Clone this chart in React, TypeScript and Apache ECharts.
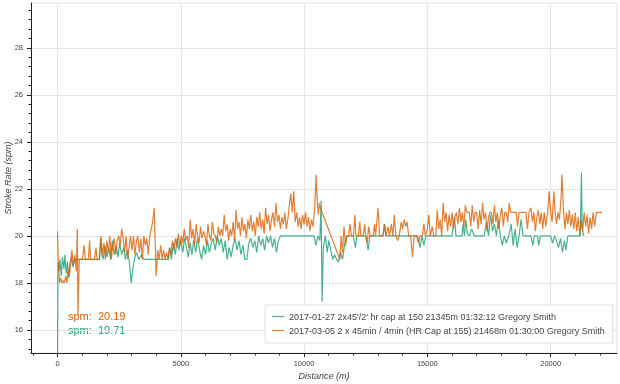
import React, { useEffect, useRef } from "react";
import * as echarts from "echarts";

// ---- data (distance m, stroke rate spm) ----
const greenName = "2017-01-27 2x45'/2' hr cap at 150 21345m 01:32:12 Gregory Smith";
const orangeName = "2017-03-05 2 x 45min / 4min (HR Cap at 155) 21468m 01:30:00 Gregory Smith";

const greenPoints: [number, number][] = [
  [0, 15.0], [20, 18.9], [60, 18.5], [100, 19.0], [150, 18.3], [200, 19.1], [260, 18.6], [300, 19.2],
  [350, 18.4], [400, 18.9], [450, 18.2], [500, 18.8], [560, 19.1], [620, 18.7], [700, 19.0], [800, 19.0],
  [1000, 19.0], [1200, 19.0], [1400, 19.0], [1700, 19.0], [1750, 19.9], [1800, 19.2], [1850, 19.0], [1920, 19.6],
  [2000, 19.1], [2080, 19.5], [2150, 19.0], [2220, 19.8], [2300, 19.2], [2380, 19.6], [2450, 19.1], [2520, 19.7],
  [2600, 19.2], [2680, 19.5], [2750, 19.0], [2820, 19.4], [2900, 19.0], [2990, 18.0], [3050, 18.6], [3120, 19.0],
  [3200, 19.3], [3300, 19.0], [3400, 19.2], [3500, 19.0], [3800, 19.0], [4100, 19.0], [4500, 19.0], [4550, 19.5],
  [4620, 19.0], [4700, 19.7], [4780, 19.2], [4850, 19.9], [4920, 19.4], [5000, 19.8], [5080, 19.3], [5150, 19.9],
  [5230, 19.5], [5300, 19.1], [5380, 19.7], [5450, 19.2], [5520, 19.8], [5600, 19.3], [5680, 19.9], [5760, 19.4],
  [5840, 19.0], [5920, 19.6], [6000, 19.2], [6080, 19.8], [6160, 19.3], [6240, 19.7], [6320, 19.9], [6400, 19.4],
  [6480, 20.0], [6560, 19.6], [6640, 19.9], [6720, 19.3], [6800, 19.8], [6880, 19.0], [6960, 19.5], [7040, 19.1],
  [7120, 19.6], [7200, 19.9], [7280, 19.4], [7360, 19.8], [7440, 19.2], [7520, 19.6], [7600, 19.0], [7680, 19.0],
  [7760, 19.7], [7840, 19.9], [7920, 19.5], [8000, 19.8], [8080, 19.3], [8160, 20.0], [8240, 19.6], [8320, 19.9],
  [8400, 19.4], [8480, 20.0], [8560, 19.7], [8640, 20.0], [8720, 19.5], [8800, 19.9], [8880, 19.3], [8960, 19.8],
  [9040, 20.0], [9100, 20.0], [9500, 20.0], [10000, 20.0], [10400, 20.0], [10480, 19.6], [10560, 20.0], [10640, 19.8],
  [10690, 21.5], [10730, 17.2], [10780, 19.5], [10860, 20.0], [10940, 19.3], [11000, 19.8], [11080, 19.4], [11160, 19.0],
  [11240, 19.2], [11320, 19.0], [11400, 18.9], [11480, 19.3], [11560, 19.0], [11640, 19.6], [11720, 20.0], [12000, 20.0],
  [12080, 19.5], [12140, 20.0], [12500, 20.0], [12600, 19.4], [12660, 20.0], [13000, 20.0], [13200, 20.0], [13260, 20.5],
  [13320, 20.0], [14000, 20.0], [14600, 20.0], [14700, 19.5], [14780, 20.0], [14860, 19.6], [14940, 20.0], [15200, 20.0],
  [16000, 20.0], [16100, 20.8], [16160, 20.0], [16400, 20.0], [16450, 20.5], [16500, 20.0], [16560, 20.7], [16620, 20.1],
  [16700, 20.0], [16800, 20.3], [16900, 20.0], [17000, 20.0], [17300, 20.0], [17400, 20.6], [17480, 20.0], [17560, 20.9],
  [17640, 20.2], [17720, 20.5], [17800, 20.0], [17880, 20.7], [17960, 20.0], [18040, 19.6], [18120, 20.0], [18200, 19.7],
  [18300, 20.0], [18400, 20.5], [18480, 19.6], [18560, 20.3], [18640, 19.5], [18720, 20.0], [18800, 20.7], [18880, 20.0],
  [19000, 20.0], [19200, 20.0], [19280, 19.6], [19340, 20.0], [19460, 20.0], [19520, 19.6], [19580, 20.0], [20000, 20.0],
  [20080, 19.7], [20160, 20.0], [20240, 19.8], [20320, 19.5], [20400, 19.9], [20480, 19.3], [20560, 19.8], [20620, 19.4],
  [20700, 20.0], [21000, 20.0], [21200, 20.0], [21250, 22.7], [21280, 20.3], [21345, 20.0],
];

const orangePoints: [number, number][] = [
  [0, 20.2], [30, 18.9], [80, 18.0], [130, 18.2], [180, 18.0], [230, 18.1], [280, 18.0], [330, 18.3],
  [380, 18.0], [430, 18.6], [480, 18.3], [530, 18.8], [580, 19.4], [640, 18.7], [700, 19.2], [760, 18.5],
  [800, 20.3], [830, 16.6], [880, 19.0], [940, 19.0], [1000, 19.0], [1080, 19.6], [1120, 19.0], [1250, 19.0],
  [1300, 19.8], [1340, 19.0], [1500, 19.0], [1560, 19.5], [1600, 19.0], [1700, 19.0], [1760, 20.0], [1820, 19.2],
  [1880, 19.7], [1940, 19.0], [2000, 19.8], [2060, 19.3], [2120, 20.0], [2180, 19.0], [2240, 19.6], [2300, 19.9],
  [2360, 19.2], [2420, 19.8], [2480, 20.0], [2540, 19.6], [2600, 20.3], [2660, 19.9], [2720, 19.3], [2780, 20.0],
  [2840, 19.0], [2900, 19.5], [2960, 20.0], [3020, 19.4], [3080, 20.0], [3140, 19.2], [3200, 19.8], [3260, 20.0],
  [3320, 19.3], [3380, 19.9], [3440, 19.0], [3500, 20.0], [3560, 19.6], [3620, 19.9], [3680, 19.2], [3740, 20.0],
  [3800, 20.3], [3860, 20.6], [3920, 21.2], [3960, 19.8], [4000, 18.3], [4060, 19.4], [4120, 19.0], [4180, 19.6],
  [4240, 19.0], [4300, 19.4], [4360, 19.0], [4420, 19.3], [4480, 19.0], [4540, 19.5], [4600, 19.2], [4660, 19.8],
  [4720, 19.4], [4780, 19.9], [4840, 19.5], [4900, 20.1], [4960, 19.6], [5020, 20.0], [5080, 19.7], [5140, 20.3],
  [5200, 19.8], [5260, 20.0], [5320, 19.5], [5380, 20.7], [5440, 19.9], [5500, 20.3], [5560, 19.6], [5620, 20.5],
  [5680, 20.0], [5740, 19.7], [5800, 20.4], [5860, 19.9], [5920, 20.2], [5980, 20.0], [6040, 19.6], [6100, 20.5],
  [6160, 20.0], [6220, 19.8], [6280, 20.6], [6340, 20.1], [6400, 20.0], [6460, 19.7], [6520, 20.4], [6580, 20.0],
  [6640, 20.3], [6700, 20.0], [6760, 20.9], [6820, 20.2], [6880, 20.5], [6940, 19.8], [7000, 20.3], [7060, 20.0],
  [7120, 20.6], [7180, 19.8], [7240, 21.1], [7300, 20.3], [7360, 20.6], [7420, 20.0], [7480, 20.8], [7540, 20.2],
  [7600, 20.5], [7660, 19.9], [7720, 20.7], [7780, 20.3], [7840, 20.9], [7900, 20.2], [7960, 20.6], [8020, 20.0],
  [8080, 20.8], [8140, 20.4], [8200, 21.0], [8260, 20.3], [8320, 20.7], [8380, 20.1], [8440, 21.2], [8500, 20.5],
  [8560, 20.9], [8620, 20.2], [8680, 20.7], [8740, 21.0], [8800, 20.4], [8860, 21.4], [8920, 20.6], [8980, 20.9],
  [9040, 20.3], [9100, 20.8], [9160, 20.5], [9220, 21.0], [9280, 20.3], [9340, 20.7], [9400, 21.3], [9460, 21.8],
  [9520, 21.0], [9580, 21.9], [9640, 20.6], [9700, 21.0], [9760, 20.4], [9820, 20.8], [9880, 20.3], [9940, 20.9],
  [10000, 20.5], [10060, 21.0], [10120, 20.4], [10180, 20.8], [10240, 20.2], [10300, 20.7], [10360, 20.4], [10420, 21.0],
  [10490, 22.6], [10530, 21.5], [10580, 20.9], [10620, 21.4], [10660, 21.2], [11450, 19.0], [11500, 20.0], [11560, 19.3],
  [11620, 20.4], [11680, 19.6], [11740, 20.0], [11800, 20.0], [11860, 20.5], [11920, 20.0], [12000, 20.0], [12060, 20.9],
  [12100, 20.0], [12200, 20.0], [12260, 20.6], [12300, 20.0], [12400, 20.0], [12460, 20.5], [12500, 20.0], [12560, 19.7],
  [12620, 20.4], [12680, 20.0], [12800, 20.0], [12860, 20.5], [12900, 20.0], [13000, 21.2], [13060, 20.0], [13200, 20.0],
  [13260, 20.5], [13320, 20.0], [13400, 20.4], [13460, 20.0], [13540, 20.5], [13600, 20.0], [13660, 20.9], [13720, 20.0],
  [13800, 19.8], [13860, 20.0], [13940, 20.6], [14000, 20.3], [14060, 20.7], [14120, 20.4], [14180, 20.6], [14240, 20.0],
  [14320, 20.0], [14400, 19.1], [14460, 20.0], [14560, 20.0], [14640, 19.7], [14700, 20.0], [14800, 20.0], [14860, 20.5],
  [14920, 20.0], [15000, 20.3], [15060, 20.9], [15120, 20.0], [15200, 20.4], [15260, 20.0], [15340, 20.0], [15400, 21.1],
  [15460, 20.3], [15520, 20.7], [15580, 20.0], [15640, 21.4], [15700, 20.6], [15760, 21.0], [15820, 20.2], [15880, 20.9],
  [15940, 20.4], [16000, 21.0], [16060, 20.3], [16120, 20.8], [16180, 21.0], [16240, 20.5], [16300, 21.2], [16360, 20.6],
  [16420, 21.0], [16480, 20.4], [16540, 21.3], [16600, 21.0], [16700, 21.0], [16760, 20.4], [16820, 21.3], [16880, 20.6],
  [16940, 21.0], [17000, 21.0], [17060, 20.3], [17120, 21.1], [17180, 20.5], [17240, 21.4], [17300, 20.7], [17360, 21.0],
  [17420, 20.2], [17480, 20.8], [17540, 21.0], [17600, 21.0], [17660, 20.5], [17720, 21.3], [17780, 20.6], [17840, 21.0],
  [17900, 20.3], [17960, 20.9], [18020, 21.2], [18080, 20.4], [18140, 21.0], [18200, 21.0], [18260, 20.6], [18320, 21.4],
  [18380, 21.0], [18600, 21.0], [18660, 20.4], [18720, 21.0], [19000, 21.0], [19060, 20.3], [19120, 21.0], [19200, 21.2],
  [19260, 20.6], [19320, 21.0], [19380, 20.2], [19440, 20.8], [19500, 21.1], [19560, 20.5], [19620, 21.0], [19680, 20.3],
  [19740, 21.0], [19800, 20.4], [19880, 21.0], [19940, 21.9], [20000, 21.0], [20060, 20.6], [20130, 21.9], [20180, 21.0],
  [20240, 20.5], [20300, 21.0], [20360, 20.7], [20420, 21.6], [20460, 22.6], [20520, 21.1], [20580, 20.3], [20640, 21.0],
  [20700, 20.5], [20760, 21.1], [20820, 20.4], [20880, 20.9], [20940, 20.3], [21000, 21.0], [21060, 20.2], [21120, 20.8],
  [21180, 20.0], [21240, 20.7], [21300, 20.2], [21360, 21.0], [21420, 20.4], [21480, 20.9], [21540, 20.1], [21600, 20.8],
  [21660, 20.3], [21720, 21.0], [21780, 20.4], [21860, 21.0], [22090, 21.0],
];

const xMajorTicks = [0, 5000, 10000, 15000, 20000];
const xMinorTicks = [-1000, 1000, 2000, 3000, 4000, 6000, 7000, 8000, 9000, 11000, 12000, 13000, 14000, 16000, 17000, 18000, 19000, 21000, 22000];
const yMajorTicks = [16, 18, 20, 22, 24, 26, 28];
const yMinorTicks = [15.2, 15.6, 16.4, 16.8, 17.2, 17.6, 18.4, 18.8, 19.2, 19.6, 20.4, 20.8, 21.2, 21.6, 22.4, 22.8, 23.2, 23.6, 24.4, 24.8, 25.2, 25.6, 26.4, 26.8, 27.2, 27.6, 28.4, 28.8, 29.2, 29.6];

const orangeAvgLabel = "spm:  20.19";
const greenAvgLabel = "spm:  19.71";

const X_MIN = -1077;
const X_MAX = 22692;
const Y_MIN = 15.02;
const Y_MAX = 29.91;

const GREEN = "#1b9e77";
const ORANGE = "#d95f02";
const FONT = "'Liberation Sans', Helvetica, Arial, sans-serif";
const LINE_ICON = "path://M0,0L24,0L24,2.4L0,2.4Z";

export default function App() {
  const ref = useRef<HTMLDivElement>(null);
  useEffect(() => {
    if (!ref.current) return;
    const chart = echarts.init(ref.current, null, { renderer: "svg" });
    const axisDark = "#222";
    const labelStyle = { fontSize: 7.5, color: "#444", fontFamily: FONT, formatter: (v: number) => String(v) };
    chart.setOption({
      animation: false,
      grid: { left: 31, right: 3, top: 3, bottom: 31, show: true, borderColor: "#e5e5e5", borderWidth: 1 },
      xAxis: [
        {
          type: "value", min: X_MIN, max: X_MAX, position: "bottom",
          axisLine: { show: true, onZero: false, lineStyle: { color: axisDark, width: 1 } },
          axisTick: { show: true, customValues: xMajorTicks, length: 4, lineStyle: { color: axisDark } },
          axisLabel: { show: true, customValues: xMajorTicks, margin: 6, ...labelStyle },
          splitLine: { show: true, lineStyle: { color: "#e5e5e5", width: 1 } },
        },
        {
          type: "value", min: X_MIN, max: X_MAX, position: "bottom",
          axisLine: { show: false, onZero: false },
          axisTick: { show: true, customValues: xMinorTicks, length: 2.5, lineStyle: { color: axisDark } },
          axisLabel: { show: false },
          splitLine: { show: false },
        },
      ],
      yAxis: [
        {
          type: "value", min: Y_MIN, max: Y_MAX, position: "left",
          axisLine: { show: true, onZero: false, lineStyle: { color: axisDark, width: 1 } },
          axisTick: { show: true, customValues: yMajorTicks, length: 4, lineStyle: { color: axisDark } },
          axisLabel: { show: true, customValues: yMajorTicks, margin: 8, ...labelStyle },
          splitLine: { show: true, lineStyle: { color: "#e5e5e5", width: 1 } },
        },
        {
          type: "value", min: Y_MIN, max: Y_MAX, position: "left",
          axisLine: { show: false, onZero: false },
          axisTick: { show: true, customValues: yMinorTicks, length: 2.5, lineStyle: { color: axisDark } },
          axisLabel: { show: false },
          splitLine: { show: false },
        },
      ],
      legend: {
        left: 265, top: 305, orient: "vertical",
        padding: [7, 8, 8, 7], itemGap: 5, itemWidth: 12, itemHeight: 10,
        icon: LINE_ICON,
        backgroundColor: "rgba(255,255,255,0.95)", borderColor: "#e0e0e0", borderWidth: 1, borderRadius: 0,
        textStyle: { fontSize: 9, color: "#444", fontFamily: FONT },
        data: [
          { name: greenName, icon: LINE_ICON, itemStyle: { color: GREEN, opacity: 0.8 } },
          { name: orangeName, icon: LINE_ICON, itemStyle: { color: ORANGE, opacity: 0.8 } },
        ],
      },
      series: [
        {
          name: greenName, type: "line", xAxisIndex: 0, yAxisIndex: 0,
          data: greenPoints, symbol: "none", showSymbol: false,
          lineStyle: { color: GREEN, width: 1.2, opacity: 0.8 }, itemStyle: { color: GREEN },
        },
        {
          name: orangeName, type: "line", xAxisIndex: 0, yAxisIndex: 0,
          data: orangePoints, symbol: "none", showSymbol: false,
          lineStyle: { color: ORANGE, width: 1.2, opacity: 0.8 }, itemStyle: { color: ORANGE },
        },
      ],
      graphic: [
        {
          type: "text", x: 324, y: 376,
          style: { text: "Distance (m)", fill: "#444", fontSize: 9, fontStyle: "italic", fontFamily: FONT, textAlign: "center", textVerticalAlign: "middle" },
        },
        {
          type: "text", x: 8, y: 178, rotation: Math.PI / 2,
          style: { text: "Stroke Rate (spm)", fill: "#444", fontSize: 9, fontStyle: "italic", fontFamily: FONT, textAlign: "center", textVerticalAlign: "middle" },
        },
        {
          type: "text", x: 68, y: 316,
          style: { text: orangeAvgLabel, fill: ORANGE, fontSize: 11, fontFamily: FONT, textAlign: "left", textVerticalAlign: "middle" },
        },
        {
          type: "text", x: 68, y: 329.5,
          style: { text: greenAvgLabel, fill: GREEN, fontSize: 11, fontFamily: FONT, textAlign: "left", textVerticalAlign: "middle" },
        },
      ],
    });
    return () => chart.dispose();
  }, []);
  return <div ref={ref} style={{ position: "fixed", left: 0, top: 0, width: 620, height: 384 }} />;
}
